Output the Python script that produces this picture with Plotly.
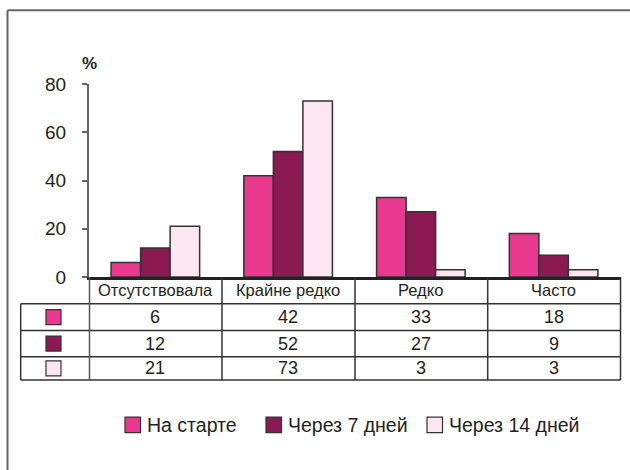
import plotly.graph_objects as go

categories = ["Отсутствовала", "Крайне редко", "Редко", "Часто"]
series_names = ["На старте", "Через 7 дней", "Через 14 дней"]
start_vals = [6, 42, 33, 18]
day7_vals = [12, 52, 27, 9]
day14_vals = [21, 73, 3, 3]
y_ticks = [0, 20, 40, 60, 80]
colors = ["#E8398F", "#8B1A52", "#FCE6EF"]

series = [start_vals, day7_vals, day14_vals]

W, H = 630, 470
L, R = 89, 620
T, B = 84.3, 277.5
FONT = "Liberation Sans, Arial, sans-serif"
TXT = "#231f20"


def px(x):
    return (x - L) / (R - L)


def py(y):
    return (B - y) / (B - T)


fig = go.Figure()
for name, vals, col in zip(series_names, series, colors):
    fig.add_trace(go.Bar(
        x=categories, y=vals, name=name,
        marker=dict(color=col, line=dict(color="#333333", width=1.5)),
        showlegend=False, hoverinfo="x+y+name",
    ))

shapes = []
annotations = []

# outer frame (left and top)
shapes.append(dict(type="line", xref="paper", yref="paper",
                   x0=px(7.5), x1=px(632), y0=py(10.5), y1=py(10.5),
                   line=dict(color="#666666", width=2)))
shapes.append(dict(type="line", xref="paper", yref="paper",
                   x0=px(7.5), x1=px(7.5), y0=py(10.5), y1=py(475),
                   line=dict(color="#666666", width=2)))

# table geometry
row_lines = [304.3, 331, 357.3, 380.7]
col_lines = [89.5, 222, 355, 487.7, 620.5]
tbl_left = 20.7
for yl in row_lines:
    shapes.append(dict(type="line", xref="paper", yref="paper",
                       x0=px(tbl_left), x1=px(620.5), y0=py(yl), y1=py(yl),
                       line=dict(color="#333333", width=1.5)))
for xl in col_lines[1:]:
    shapes.append(dict(type="line", xref="paper", yref="paper",
                       x0=px(xl), x1=px(xl), y0=py(B), y1=py(380.7),
                       line=dict(color="#333333", width=1.5)))
shapes.append(dict(type="line", xref="paper", yref="paper",
                   x0=px(89.5), x1=px(89.5), y0=py(B), y1=py(380.7),
                   line=dict(color="#555555", width=1.5)))
shapes.append(dict(type="line", xref="paper", yref="paper",
                   x0=px(tbl_left), x1=px(tbl_left), y0=py(304.3), y1=py(380.7),
                   line=dict(color="#333333", width=1.5)))

# header category labels
for c in categories:
    annotations.append(dict(x=c, xref="x", y=py(291), yref="paper",
                            text=c, showarrow=False,
                            font=dict(family=FONT, size=16.5, color=TXT),
                            xanchor="center", yanchor="middle"))

# rows
row_centers = [(row_lines[i] + row_lines[i + 1]) / 2 for i in range(3)]
for rc, vals, col in zip(row_centers, series, colors):
    shapes.append(dict(type="rect", xref="paper", yref="paper",
                       x0=px(46), x1=px(61), y0=py(rc - 7.5), y1=py(rc + 7.5),
                       fillcolor=col, line=dict(color="#333333", width=1.2)))
    for c, v in zip(categories, vals):
        annotations.append(dict(x=c, xref="x", y=py(rc), yref="paper",
                                text=str(v), showarrow=False,
                                font=dict(family=FONT, size=18, color=TXT),
                                xanchor="center", yanchor="middle"))

# legend
leg_sq = [125, 266, 427]
leg_y = 425.5
for x0, name, col in zip(leg_sq, series_names, colors):
    shapes.append(dict(type="rect", xref="paper", yref="paper",
                       x0=px(x0), x1=px(x0 + 15.5), y0=py(leg_y - 7.8), y1=py(leg_y + 7.8),
                       fillcolor=col, line=dict(color="#333333", width=1.2)))
    annotations.append(dict(x=px(x0 + 19.5), xref="paper", y=py(leg_y), yref="paper",
                            text=name, showarrow=False,
                            font=dict(family=FONT, size=19.5, color=TXT),
                            xanchor="left", yanchor="middle"))

# percent label
annotations.append(dict(x=px(89.5), xref="paper", y=py(64), yref="paper",
                        text="<b>%</b>", showarrow=False,
                        font=dict(family=FONT, size=17, color=TXT),
                        xanchor="center", yanchor="middle"))

fig.update_layout(
    width=W, height=H,
    margin=dict(l=L, r=W - R, t=T, b=H - B, pad=0),
    paper_bgcolor="white", plot_bgcolor="white",
    barmode="group", bargap=0.333, bargroupgap=0,
    font=dict(family=FONT, color=TXT),
    shapes=shapes, annotations=annotations,
    xaxis=dict(showticklabels=False, ticks="", showgrid=False, zeroline=False,
               showline=True, linecolor="#222222", linewidth=2.5,
               range=[-0.5, 3.5], fixedrange=True),
    yaxis=dict(range=[0, 80], tickvals=y_ticks, ticks="outside", ticklen=5,
               tickwidth=2, tickcolor="#666666", showgrid=False, zeroline=False,
               showline=True, linecolor="#666666", linewidth=2,
               tickfont=dict(family=FONT, size=19, color=TXT),
               ticklabelstandoff=12, fixedrange=True),
)

fig.write_html(
    "out.html",
    config={"displayModeBar": False},
    post_script="document.body.style.margin='0';document.body.style.overflow='hidden';",
)
